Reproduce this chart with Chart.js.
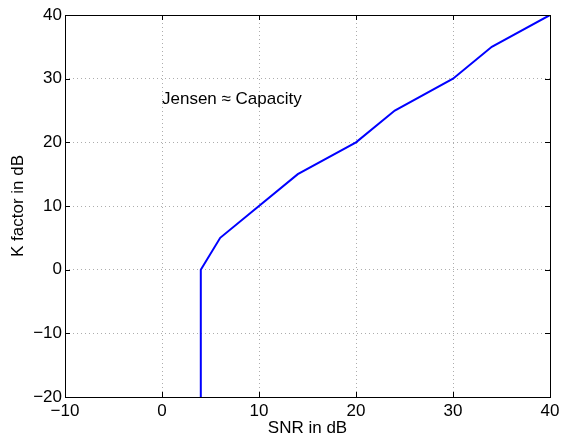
<!DOCTYPE html>
<html>
<head>
<meta charset="utf-8">
<script src="https://cdn.jsdelivr.net/npm/chart.js@4"></script>
<style>
  html, body { margin: 0; padding: 0; background: #fff; }
  #wrap { width: 561px; height: 434px; }
</style>
</head>
<body>
<div id="wrap"><canvas id="kChart"></canvas></div>
<script>
// data
const snrDb = [4, 4, 6, 14, 20, 24, 30, 34, 40];
const kFactorDb = [-20, 0, 5, 15, 20, 25, 30, 35, 40];
const xTicks = [-10, 0, 10, 20, 30, 40];
const yTicks = [-20, -10, 0, 10, 20, 30, 40];
const noteText = 'Jensen \u2248 Capacity';
const notePos = [0, 26.8];

const FONT = '"Liberation Sans", Arial, Helvetica, sans-serif';

// MATLAB style box with inward ticks on all sides, plus the text note
const boxPlugin = {
    id: 'matlabBox',
    afterDraw(chart) {
        const ctx = chart.ctx;
        const a = chart.chartArea;
        const xs = chart.scales.x, ys = chart.scales.y;
        const len = 5;
        ctx.save();
        ctx.strokeStyle = '#000';
        ctx.lineWidth = 1;
        ctx.strokeRect(Math.round(a.left) + 0.5, Math.round(a.top) + 0.5,
            Math.round(a.right - a.left), Math.round(a.bottom - a.top));
        ctx.beginPath();
        xTicks.forEach(v => {
            const px = Math.round(xs.getPixelForValue(v)) + 0.5;
            ctx.moveTo(px, a.bottom); ctx.lineTo(px, a.bottom - len);
            ctx.moveTo(px, a.top); ctx.lineTo(px, a.top + len);
        });
        yTicks.forEach(v => {
            const py = Math.round(ys.getPixelForValue(v)) + 0.5;
            ctx.moveTo(a.left, py); ctx.lineTo(a.left + len, py);
            ctx.moveTo(a.right, py); ctx.lineTo(a.right - len, py);
        });
        ctx.stroke();

        ctx.fillStyle = '#000';
        ctx.font = '17px ' + FONT;
        ctx.textAlign = 'left';
        ctx.textBaseline = 'middle';
        ctx.fillText(noteText, xs.getPixelForValue(notePos[0]), ys.getPixelForValue(notePos[1]));
        ctx.restore();
    }
};

const minus = v => String(v).replace('-', '\u2212');

const ctx = document.getElementById('kChart').getContext('2d');
new Chart(ctx, {
    type: 'scatter',
    data: {
        datasets: [{
            data: snrDb.map((x, i) => ({ x: x, y: kFactorDb[i] })),
            showLine: true,
            borderColor: '#0000ff',
            borderWidth: 2,
            pointRadius: 0,
            fill: false,
            tension: 0
        }]
    },
    options: {
        responsive: true,
        maintainAspectRatio: false,
        animation: false,
        layout: { padding: { left: 0, right: 11, top: 15, bottom: 0 } },
        plugins: {
            legend: { display: false },
            tooltip: { enabled: false }
        },
        scales: {
            x: {
                type: 'linear',
                min: -10,
                max: 40,
                afterBuildTicks: s => { s.ticks = xTicks.map(v => ({ value: v })); },
                afterFit: s => { s.height = 37; s.paddingLeft = 0; s.paddingRight = 0; },
                grid: {
                    color: 'rgba(0,0,0,0.32)',
                    drawTicks: false,
                    lineWidth: ctx => (ctx.tick && (ctx.tick.value === -10 || ctx.tick.value === 40)) ? 0 : 1
                },
                border: { display: false, dash: [1, 3] },
                ticks: {
                    color: '#000',
                    padding: 4,
                    maxRotation: 0,
                    font: { family: FONT, size: 17 },
                    callback: v => minus(v)
                },
                title: {
                    display: true,
                    text: 'SNR in dB',
                    color: '#000',
                    font: { family: FONT, size: 17, lineHeight: 0.7 },
                    padding: { top: 0, bottom: 0 }
                }
            },
            y: {
                type: 'linear',
                min: -20,
                max: 40,
                afterBuildTicks: s => { s.ticks = yTicks.map(v => ({ value: v })); },
                afterFit: s => { s.width = 65; s.paddingTop = 0; s.paddingBottom = 0; },
                grid: {
                    color: 'rgba(0,0,0,0.32)',
                    drawTicks: false,
                    lineWidth: ctx => (ctx.tick && (ctx.tick.value === -20 || ctx.tick.value === 40)) ? 0 : 1
                },
                border: { display: false, dash: [1, 3] },
                ticks: {
                    color: '#000',
                    padding: 3,
                    font: { family: FONT, size: 17 },
                    callback: v => minus(v)
                },
                title: {
                    display: true,
                    text: 'K factor in dB',
                    color: '#000',
                    font: { family: FONT, size: 17, lineHeight: 1 },
                    padding: { top: 10, bottom: 0 }
                }
            }
        }
    },
    plugins: [boxPlugin]
});
</script>
</body>
</html>
